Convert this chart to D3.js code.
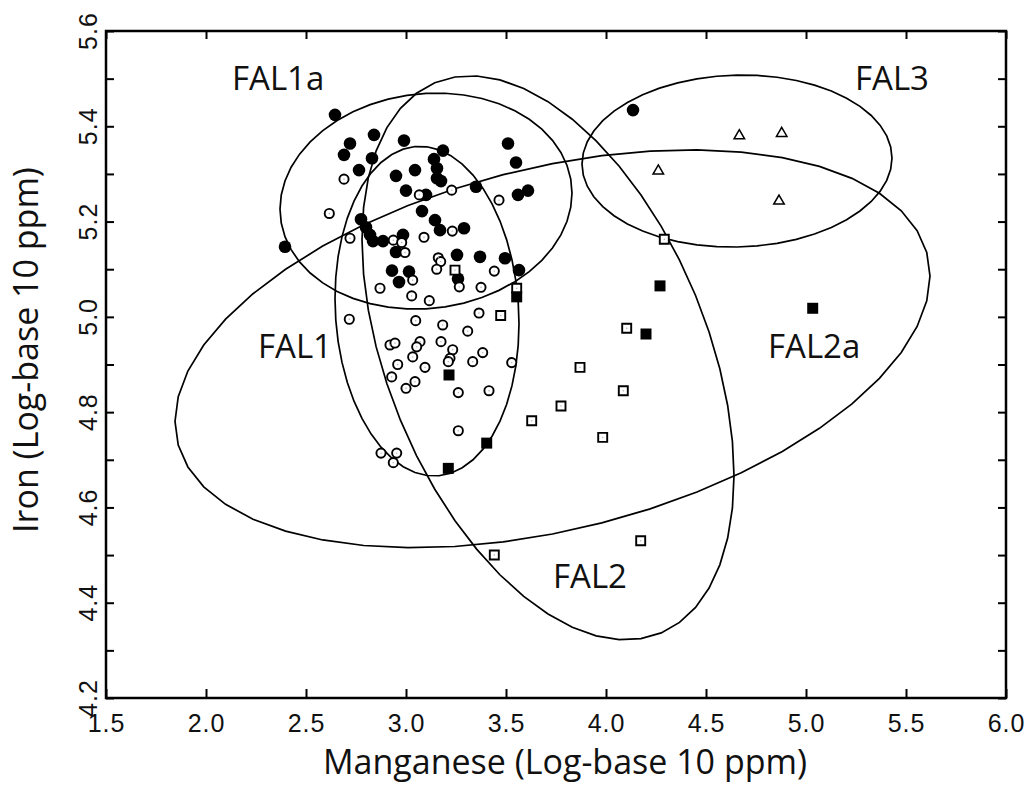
<!DOCTYPE html>
<html><head><meta charset="utf-8">
<script src="https://cdn.jsdelivr.net/npm/d3@7"></script>
<style>body{margin:0;background:#fff} svg{display:block}</style>
</head><body>
<svg id="chart" width="1029" height="785"></svg>
<script>
// ---------- DATA ----------
const xTickValues = [1.5, 2.0, 2.5, 3.0, 3.5, 4.0, 4.5, 5.0, 5.5, 6.0];
const xTickLabels = ["1.5", "2.0", "2.5", "3.0", "3.5", "4.0", "4.5", "5.0", "5.5", "6.0"];
const yTickValues = [4.2, 4.4, 4.6, 4.8, 5.0, 5.2, 5.4, 5.6];
const yTickLabels = ["4.2", "4.4", "4.6", "4.8", "5.0", "5.2", "5.4", "5.6"];
const yMinorTicks = [4.2, 4.3, 4.4, 4.5, 4.6, 4.7, 4.8, 4.9, 5.0, 5.1, 5.2, 5.3, 5.4, 5.5, 5.6];

// FAL1a - filled circles [Mn, Fe]
const fal1aPoints = [
  [2.395,5.147],[2.645,5.424],[2.84,5.382],[2.72,5.364],[2.69,5.340],[2.83,5.333],[2.765,5.308],
  [2.99,5.370],[3.185,5.349],[3.14,5.331],[3.155,5.312],[3.155,5.291],[3.175,5.285],[2.95,5.296],
  [3.045,5.308],[3.00,5.265],[3.10,5.256],[3.08,5.222],[3.145,5.203],[3.17,5.182],[3.29,5.186],
  [2.775,5.205],[2.80,5.188],[2.82,5.172],[2.835,5.159],[2.885,5.159],[2.985,5.172],[2.95,5.136],
  [2.93,5.097],[3.015,5.095],[2.965,5.073],[3.255,5.130],[3.37,5.126],[3.495,5.123],[3.565,5.098],
  [3.26,5.080],[3.51,5.364],[3.55,5.324],[3.35,5.273],[3.56,5.256],[3.61,5.265],[4.135,5.434]
];
// FAL1 - open circles
const fal1Points = [
  [2.69,5.289],[2.6165,5.217],[2.72,5.165],[2.7165,4.995],[3.0665,5.256],[3.2285,5.266],[3.465,5.245],
  [3.09,5.167],[3.2315,5.180],[2.9365,5.161],[2.9785,5.156],[2.995,5.135],[3.1615,5.124],[3.1735,5.116],
  [3.1535,5.100],[3.0335,5.077],[2.87,5.060],[3.0285,5.044],[3.1165,5.034],[3.2665,5.063],[3.375,5.062],
  [3.4415,5.096],[3.365,5.008],[3.0485,4.992],[3.1835,4.983],[3.3085,4.970],[2.92,4.941],[2.945,4.945],
  [3.07,4.948],[3.0535,4.937],[3.175,4.948],[3.2335,4.931],[3.22,4.913],[3.2115,4.906],[3.3835,4.925],
  [3.3335,4.906],[3.5285,4.904],[3.095,4.894],[3.0335,4.916],[2.9585,4.900],[2.9285,4.874],[3.045,4.864],
  [3.0,4.850],[3.2615,4.841],[3.415,4.845],[3.2615,4.761],[2.875,4.714],[2.9535,4.714],[2.9365,4.694]
];
// FAL2 - open squares
const fal2Points = [
  [3.245,5.098],[3.5535,5.060],[3.4735,5.003],[4.2915,5.163],[4.1035,4.976],[3.87,4.894],
  [4.0865,4.845],[3.775,4.813],[3.6285,4.782],[3.9835,4.747],[4.1735,4.530],[3.4415,4.500]
];
// FAL2a - filled squares
const fal2aPoints = [
  [3.5535,5.042],[4.27,5.065],[4.20,4.964],[5.0335,5.018],[3.215,4.878],[3.4035,4.735],[3.2115,4.682]
];
// FAL3 - open triangles
const fal3Points = [[4.6665,5.380],[4.8785,5.385],[4.2615,5.306],[4.865,5.243]];

// Confidence ellipses: centre, half-width (Mn), half-height (Fe), Fe offset of the right-most point
const ellipseNames      = ["FAL1a", "FAL1", "FAL2", "FAL2a", "FAL3"];
const ellipseCenterX    = [3.10, 3.105, 3.71, 3.7325, 4.655];
const ellipseCenterY    = [5.243, 5.012, 4.914, 4.933, 5.327];
const ellipseHalfWidth  = [0.73, 0.46, 0.93, 1.8875, 0.775];
const ellipseHalfHeight = [0.2267, 0.346, 0.592, 0.4176, 0.1805];
const ellipseRightShift = [0.0168, -0.0264, -0.2476, 0.1526, 0.0063];

// Group labels (left edge / baseline in data units)
const labelTexts = ["FAL1a", "FAL3", "FAL1", "FAL2a", "FAL2"];
const labelX = [2.13, 5.245, 2.26, 4.81, 3.735];
const labelY = [5.476, 5.476, 4.914, 4.914, 4.43];

// ---------- CHART ----------
const svg = d3.select("#chart");
const L = 106, R = 1006, T = 31, B = 698;
const x = d3.scaleLinear().domain([1.5, 6.0]).range([L, R]);
const y = d3.scaleLinear().domain([4.2, 5.6]).range([B, T]);
const tickFont = "'Liberation Sans', Arial, sans-serif";
const titleFont = "'Open Sans', 'Noto Sans', sans-serif";

// ellipses
const N = 48;
const ellipseLine = d3.line().x(d => x(d[0])).y(d => y(d[1])).curve(d3.curveLinearClosed);
ellipseNames.forEach((name, i) => {
  const cx = ellipseCenterX[i], cy = ellipseCenterY[i], W = ellipseHalfWidth[i], H = ellipseHalfHeight[i], s = ellipseRightShift[i];
  const k = Math.sqrt(H * H - s * s);
  const pts = d3.range(N).map(j => {
    const t = j / N * 2 * Math.PI;
    return [cx + W * Math.cos(t), cy + s * Math.cos(t) + k * Math.sin(t)];
  });
  svg.append("path").attr("d", ellipseLine(pts))
    .attr("fill", "none").attr("stroke", "#000").attr("stroke-width", 1.7);
});

// axes
const gB = svg.append("g").attr("transform", `translate(0,${B})`)
  .call(d3.axisBottom(x).tickValues(xTickValues).tickSizeInner(-9).tickSizeOuter(0).tickPadding(16)
    .tickFormat((d, i) => xTickLabels[i]));
const gT = svg.append("g").attr("transform", `translate(0,${T})`)
  .call(d3.axisTop(x).tickValues(xTickValues).tickSizeInner(-8).tickSizeOuter(0).tickFormat(""));
const gL = svg.append("g").attr("transform", `translate(${L},0)`)
  .call(d3.axisLeft(y).tickValues(yMinorTicks).tickSizeInner(-8).tickSizeOuter(0).tickFormat(""));
const gR = svg.append("g").attr("transform", `translate(${R},0)`)
  .call(d3.axisRight(y).tickValues(yMinorTicks).tickSizeInner(-8).tickSizeOuter(0).tickFormat(""));
[gB, gT, gL, gR].forEach(g => {
  g.select(".domain").remove();
  g.selectAll("line").attr("stroke", "#000").attr("stroke-width", 2);
});
gB.selectAll("text").attr("font-family", tickFont).attr("font-size", 25).attr("letter-spacing", 1).attr("fill", "#111");

// y tick labels (rotated)
svg.append("g").selectAll("text").data(yTickValues).join("text")
  .attr("transform", d => `translate(${L - 9},${y(d)}) rotate(-90)`)
  .attr("text-anchor", "middle")
  .attr("font-family", tickFont).attr("font-size", 25).attr("letter-spacing", 1).attr("fill", "#111")
  .text((d, i) => yTickLabels[i]);

// frame
svg.append("rect").attr("x", L).attr("y", T).attr("width", R - L).attr("height", B - T)
  .attr("fill", "none").attr("stroke", "#000").attr("stroke-width", 2.5);

// points
const gp = svg.append("g");
gp.selectAll(".fc").data(fal1aPoints).join("circle")
  .attr("cx", d => x(d[0])).attr("cy", d => y(d[1])).attr("r", 6.3).attr("fill", "#000");
gp.selectAll(".oc").data(fal1Points).join("circle")
  .attr("cx", d => x(d[0])).attr("cy", d => y(d[1])).attr("r", 4.6)
  .attr("fill", "#fff").attr("stroke", "#000").attr("stroke-width", 1.9);
const sq = d3.symbol().type(d3.symbolSquare);
gp.selectAll(".os").data(fal2Points).join("path")
  .attr("transform", d => `translate(${x(d[0])},${y(d[1])})`)
  .attr("d", sq.size(81)()).attr("fill", "#fff").attr("stroke", "#000").attr("stroke-width", 1.9);
// tiny centre marks seen inside the open symbols
gp.selectAll(".dotc").data(fal1Points.concat(fal2Points)).join("circle")
  .attr("cx", d => x(d[0])).attr("cy", d => y(d[1])).attr("r", 0.7).attr("fill", "#aaa");
gp.selectAll(".fs").data(fal2aPoints).join("path")
  .attr("transform", d => `translate(${x(d[0])},${y(d[1])})`)
  .attr("d", d3.symbol().type(d3.symbolSquare).size(121)()).attr("fill", "#000");
gp.selectAll(".tr").data(fal3Points).join("path")
  .attr("transform", d => `translate(${x(d[0])},${y(d[1])})`)
  .attr("d", d3.symbol().type(d3.symbolTriangle).size(48)()).attr("fill", "#fff").attr("stroke", "#000").attr("stroke-width", 1.5);

// group labels
svg.append("g").selectAll("text").data(labelTexts).join("text")
  .attr("x", (d, i) => x(labelX[i])).attr("y", (d, i) => y(labelY[i]))
  .attr("font-family", titleFont).attr("font-size", 33).attr("fill", "#111")
  .text(d => d);

// axis titles
svg.append("text").attr("x", 565).attr("y", 774).attr("text-anchor", "middle")
  .attr("font-family", titleFont).attr("font-size", 34).attr("fill", "#111")
  .text("Manganese (Log-base 10 ppm)");
svg.append("text").attr("transform", `translate(38,350) rotate(-90)`).attr("text-anchor", "middle")
  .attr("font-family", titleFont).attr("font-size", 34).attr("fill", "#111")
  .text("Iron (Log-base 10 ppm)");
</script>
</body></html>
